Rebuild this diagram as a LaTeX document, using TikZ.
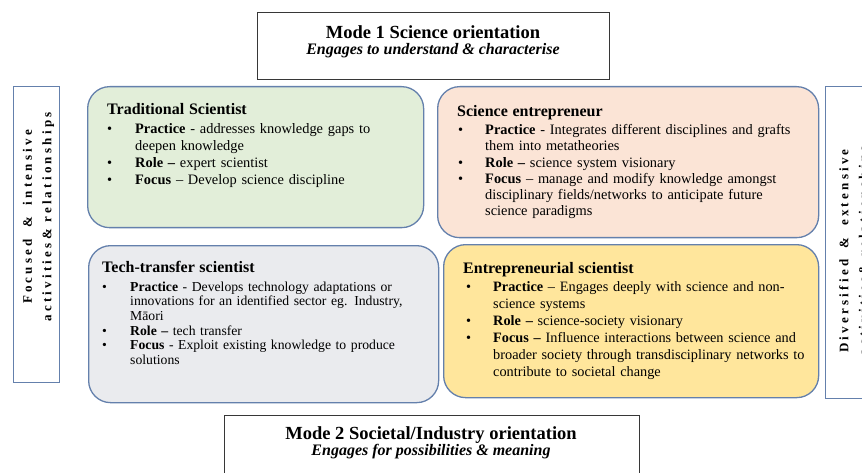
\documentclass[tikz,border=0pt]{standalone}
\usepackage{fontspec}
\setmainfont{Liberation Serif}
\newfontfamily\spacedfont[LetterSpace=25]{Liberation Serif}
\definecolor{bordblue}{RGB}{100,128,172}
\definecolor{modeborder}{RGB}{55,55,55}
\definecolor{qgreen}{RGB}{226,238,217}
\definecolor{qpeach}{RGB}{251,228,214}
\definecolor{qgray}{RGB}{234,235,238}
\definecolor{qyellow}{RGB}{255,230,156}
\newlength\ind
\newlength\boff
\newlength\jw
\newcommand\ttl[2]{{\fontsize{16}{16}\selectfont\textbf{#1}}\par\vspace{#2}}
\newcommand\bl[1]{\par\noindent\makebox[\ind][l]{\hspace*{\boff}\textbullet}#1}
\newcommand\blj[1]{\par\noindent\makebox[\ind][l]{\hspace*{\boff}\textbullet}\makebox[\jw][s]{#1}}
\newcommand\cl[1]{\par\noindent\hspace*{\ind}#1}
\newcommand\clj[1]{\par\noindent\hspace*{\ind}\makebox[\jw][s]{#1}}
\begin{document}
\begin{tikzpicture}[x=1pt,y=-1pt,
  qbox/.style={draw=bordblue, line width=1.3pt, rounded corners=22pt, anchor=north west, inner sep=0pt},
  modebox/.style={draw=modeborder, line width=1pt, fill=white, anchor=north west, inner sep=0pt},
  sidebox/.style={draw=bordblue, line width=1.2pt, fill=white, anchor=north west, inner sep=0pt},
  qtext/.style={anchor=base west, inner sep=0pt, align=left},
  modetitle/.style={anchor=base, inner sep=0pt, font=\fontsize{18.5}{20}\selectfont\bfseries},
  modesub/.style={anchor=base, inner sep=0pt, font=\fontsize{16}{18}\selectfont\bfseries\itshape},
  sidetext/.style={rotate=90, align=center, inner sep=0pt, font=\spacedfont\bfseries\fontsize{13}{19.5}\selectfont}
]
\path[use as bounding box] (0,0) rectangle (862,473);
\clip (0,0) rectangle (862,473);
\fill[white] (0,0) rectangle (862,473);

% mode boxes
\node[modebox, minimum width=352pt, minimum height=67pt] (m1) at (257,12) {};
\node[modetitle] (m1t) at (433,39) {Mode 1 Science orientation};
\node[modesub] (m1s) at (433,55) {Engages to understand \& characterise};
\node[modebox, minimum width=415pt, minimum height=80pt] (m2) at (224,415) {};
\node[modetitle] (m2t) at (431,439) {Mode 2 Societal/Industry orientation};
\node[modesub] (m2s) at (431,455) {Engages for possibilities \& meaning};

% side boxes
\node[sidebox, minimum width=46pt, minimum height=296pt] (sl) at (13,86) {};
\node[sidetext] (slt) at (38.5,217) {Focused\hspace{5pt} \&\hspace{5pt} intensive\\activities\& relationships};
\node[sidebox, minimum width=55pt, minimum height=312pt] (sr) at (825,86) {};
\node[sidetext] (srt) at (855,251) {Diversified\hspace{5pt} \&\hspace{5pt} extensive\\activities\& relationships};

% quadrant boxes
\node[qbox, fill=qgreen, minimum width=336pt, minimum height=141pt] (trad) at (87,86) {};
\node[qbox, fill=qpeach, minimum width=381pt, minimum height=151pt] (sent) at (437,86) {};
\node[qbox, fill=qgray, minimum width=350pt, minimum height=157pt] (tech) at (88,245) {};
\node[qbox, fill=qyellow, minimum width=375pt, minimum height=153pt] (entr) at (443,244) {};

% texts
\node[qtext, text width=300pt, font=\fontsize{14.4}{16.7}\selectfont] (tradt) at (107,115) {%
\setlength\parskip{0pt}\setlength\ind{28pt}\setlength\boff{0pt}%
\ttl{Traditional Scientist}{2.3pt}%
\bl{\textbf{Practice} - addresses knowledge gaps to}%
\cl{deepen knowledge}%
\bl{\textbf{Role –} expert scientist}%
\bl{\textbf{Focus} – Develop science discipline}};

\node[qtext, text width=343pt, font=\fontsize{14.4}{16.3}\selectfont] (sentt) at (457,116.5) {%
\setlength\parskip{0pt}\setlength\ind{28pt}\setlength\boff{1pt}\setlength\jw{315pt}%
\ttl{Science entrepreneur}{1.7pt}%
\blj{\textbf{Practice} - Integrates different disciplines and grafts}%
\cl{them into metatheories}%
\bl{\textbf{Role –} science system visionary}%
\bl{\textbf{Focus} – manage and modify knowledge amongst}%
\cl{disciplinary fields/networks to anticipate future}%
\cl{science paradigms}};

\node[qtext, text width=321pt, font=\fontsize{13.7}{14.7}\selectfont] (techt) at (102,272.5) {%
\setlength\parskip{0pt}\setlength\ind{28pt}\setlength\boff{0pt}\setlength\jw{293pt}%
\ttl{Tech-transfer scientist}{3.8pt}%
\blj{\textbf{Practice} - Develops technology adaptations or}%
\clj{innovations for an identified sector eg. Industry,}%
\cl{Māori}%
\bl{\textbf{Role –} tech transfer}%
\blj{\textbf{Focus} - Exploit existing knowledge to produce}%
\cl{solutions}};

\node[qtext, text width=337pt, font=\fontsize{14.3}{17}\selectfont] (entrt) at (463,273.5) {%
\setlength\parskip{0pt}\setlength\ind{30pt}\setlength\boff{3pt}\setlength\jw{307pt}%
\ttl{Entrepreneurial scientist}{1pt}%
\blj{\textbf{Practice} – Engages deeply with science and non-}%
\cl{science systems}%
\bl{\textbf{Role –} science-society visionary}%
\blj{\textbf{Focus – }Influence interactions between science and}%
\clj{broader society through transdisciplinary networks to}%
\cl{contribute to societal change}};
\end{tikzpicture}
\end{document}
